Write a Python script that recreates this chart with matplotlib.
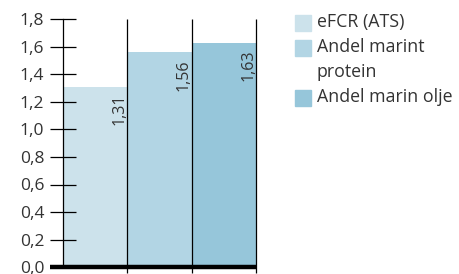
import matplotlib
matplotlib.use("Agg")
import matplotlib.pyplot as plt
from matplotlib.patches import Rectangle

# Data
categories = ["eFCR (ATS)", "Andel marint\nprotein", "Andel marin olje"]
values = [1.31, 1.56, 1.63]
value_labels = ["1,31", "1,56", "1,63"]
colors = ["#cce2eb", "#b2d5e4", "#96c6da"]
yticks = [0.0, 0.2, 0.4, 0.6, 0.8, 1.0, 1.2, 1.4, 1.6, 1.8]
ytick_labels = ["0,0", "0,2", "0,4", "0,6", "0,8", "1,0", "1,2", "1,4", "1,6", "1,8"]

plt.rcParams['font.family'] = ['Open Sans', 'DejaVu Sans']
text_color = "#333333"

fig = plt.figure(figsize=(4.59, 2.74), dpi=100)
ax = fig.add_axes([63 / 459, 7 / 274, 193 / 459, 247.5 / 274])

x = list(range(len(values)))
ax.bar(x, values, width=1.0, align="edge", color=colors, edgecolor="none", zorder=1)

# vertical separators
ax.vlines([1, 2, 3], -0.04, 1.8, color="black", linewidth=0.9, clip_on=False, zorder=2)
# thick baseline
ax.plot([-0.2, 3], [0, 0], color="black", linewidth=3.2, clip_on=False,
        solid_capstyle="butt", zorder=3)

for xi, v, lab in zip(x, values, value_labels):
    ax.text(xi + 0.88, v - 0.05, lab, rotation=90, ha="center", va="top",
            fontsize=11.5, color=text_color, zorder=4)

ax.set_xlim(0, 3)
ax.set_ylim(0, 1.8)
ax.set_yticks(yticks)
ax.set_yticklabels(ytick_labels)
ax.set_xticks([])
for s in ["top", "right", "bottom"]:
    ax.spines[s].set_visible(False)
ax.spines["left"].set_linewidth(0.9)
ax.tick_params(axis="y", direction="inout", length=19, width=0.9,
               labelsize=12.5, labelcolor=text_color, pad=4)

# legend
legend_rows = [23, 48, 98]
for lab, c, yr in zip(categories, colors, legend_rows):
    fig.patches.append(Rectangle((295 / 459, 1 - (yr + 8) / 274), 16 / 459, 16 / 274,
                                 transform=fig.transFigure, color=c, figure=fig))
    fig.text(317 / 459, 1 - (yr - 10) / 274, lab, ha="left", va="top",
             fontsize=12.8, color=text_color, linespacing=1.5)

fig.savefig("out.png", dpi=100)
